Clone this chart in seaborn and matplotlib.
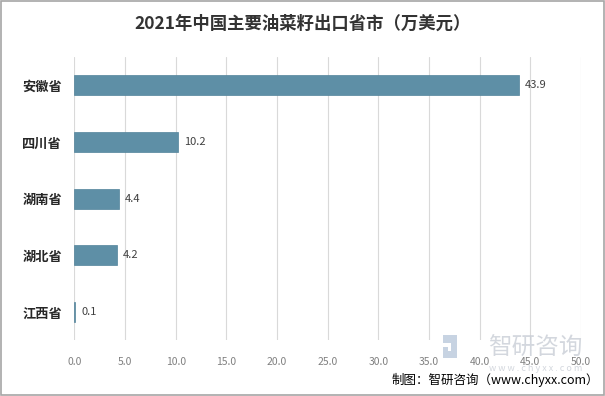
import matplotlib
matplotlib.use("Agg")
import matplotlib.pyplot as plt
import seaborn as sns
import pandas as pd

provinces = ["安徽省", "四川省", "湖南省", "湖北省", "江西省"]
values = [43.9, 10.2, 4.4, 4.2, 0.1]
xticks = [0, 5, 10, 15, 20, 25, 30, 35, 40, 45, 50]

df = pd.DataFrame({"province": provinces, "value": values})

sns.set_theme(style="white")
plt.rcParams["font.family"] = ["Noto Sans CJK SC", "DejaVu Sans"]

fig = plt.figure(figsize=(6.05, 3.96), dpi=100)
ax = fig.add_axes([0.1231, 0.141, 0.837, 0.715])

sns.barplot(data=df, x="value", y="province", color="#5E8FA6", saturation=1,
            width=0.35, edgecolor="#52839A", linewidth=0.5, ax=ax, zorder=3)

for i, v in enumerate(values):
    ax.text(v + 0.6, i, f"{v:.1f}", va="center", ha="left", fontsize=8,
            color="#404040", zorder=4)

ax.set_xlim(0, 50)
ax.set_ylim(4.5, -0.5)
ax.set_xticks(xticks)
ax.set_xticklabels([f"{t:.1f}" for t in xticks], fontsize=7.5, color="#808080")
ax.tick_params(axis="x", length=0, pad=12)
ax.tick_params(axis="y", length=0, pad=9)
for lbl in ax.get_yticklabels():
    lbl.set_fontsize(9.5)
    lbl.set_fontweight("bold")
    lbl.set_color("#262626")
ax.set_xlabel("")
ax.set_ylabel("")
ax.grid(axis="x", color="#D9D9D9", linewidth=0.8, zorder=0)
for s in ax.spines.values():
    s.set_visible(False)

fig.text(0.5, 0.94, "2021年中国主要油菜籽出口省市（万美元）", ha="center", va="center",
         fontsize=12.5, fontweight="bold", color="#333333")

# watermark
fig.text(0.885, 0.12, "智研咨询", ha="center", va="center", fontsize=17,
         color="#C9CED6", alpha=0.8, zorder=5)
fig.text(0.885, 0.07, "w w w . c h y x x . c o m", ha="center", va="center",
         fontsize=6.5, color="#C9CED6", alpha=0.8, zorder=5)
for (x0, y0, w, h) in [(0.733, 0.135, 0.022, 0.018), (0.733, 0.095, 0.022, 0.018),
                       (0.745, 0.113, 0.010, 0.022), (0.733, 0.113, 0.008, 0.012)]:
    fig.patches.append(plt.Rectangle((x0, y0), w, h, transform=fig.transFigure,
                                     facecolor="#B9C8DB", edgecolor="none", alpha=0.8))

fig.text(0.99, 0.04, "制图：智研咨询（www.chyxx.com）", ha="right", va="center",
         fontsize=9, color="#000000")

fig.patches.append(plt.Rectangle((0.002, 0.002), 0.996, 0.996, transform=fig.transFigure,
                                 fill=False, edgecolor="#A6A6A6", linewidth=1.2))

fig.savefig("out.png", dpi=100)
